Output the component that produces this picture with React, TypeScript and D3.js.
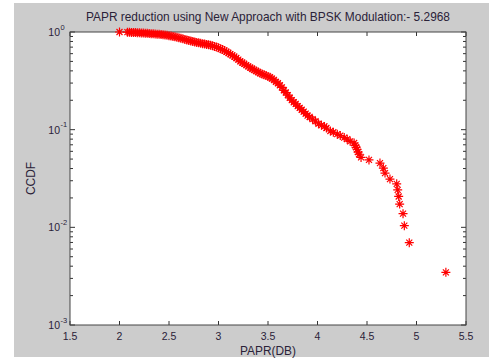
import React from "react";
import * as d3 from "d3";

const titleText = "PAPR reduction using New Approach with BPSK Modulation:- 5.2968";
const xLabelText = "PAPR(DB)";
const yLabelText = "CCDF";
const xTicks = [1.5, 2, 2.5, 3, 3.5, 4, 4.5, 5, 5.5];
const yDecades = [-3, -2, -1, 0];

const paprValues = [
  2.0, 2.08, 2.1, 2.12, 2.14, 2.16, 2.18, 2.2, 2.22, 2.24, 2.26, 2.28, 2.3, 2.32, 2.34, 2.36, 2.38, 2.4,
  2.42, 2.44, 2.46, 2.48, 2.5, 2.52, 2.54, 2.56, 2.58, 2.6, 2.62, 2.64, 2.66, 2.68, 2.7, 2.72, 2.74,
  2.76, 2.78, 2.8, 2.82, 2.84, 2.86, 2.88, 2.9, 2.92, 2.94, 2.96, 2.98, 3.0, 3.02, 3.04, 3.06, 3.08,
  3.1, 3.12, 3.14, 3.16, 3.18, 3.2, 3.22, 3.24, 3.26, 3.28, 3.3, 3.32, 3.34, 3.36, 3.38, 3.4, 3.42,
  3.44, 3.46, 3.48, 3.5, 3.52, 3.54, 3.56, 3.58, 3.6, 3.62, 3.64, 3.66, 3.68, 3.7, 3.72, 3.74, 3.76,
  3.78, 3.8, 3.82, 3.84, 3.86, 3.88, 3.9, 3.92, 3.95, 3.98, 4.01, 4.04, 4.07, 4.09, 4.13, 4.16, 4.2,
  4.23, 4.27, 4.3, 4.33, 4.37, 4.38, 4.39, 4.4, 4.41, 4.42, 4.44, 4.52, 4.631, 4.665, 4.682, 4.732,
  4.8, 4.81, 4.82, 4.83, 4.864, 4.877, 4.927, 5.2968,
];
const ccdfValues = [
  1.0, 0.997, 0.993, 0.99, 0.99, 0.986, 0.983, 0.983, 0.979, 0.976, 0.972, 0.969, 0.965, 0.962, 0.958,
  0.955, 0.951, 0.948, 0.944, 0.938, 0.931, 0.924, 0.917, 0.91, 0.9, 0.893, 0.882, 0.872, 0.861, 0.851,
  0.84, 0.83, 0.819, 0.809, 0.799, 0.788, 0.781, 0.774, 0.767, 0.76, 0.753, 0.746, 0.74, 0.733, 0.722,
  0.712, 0.701, 0.688, 0.674, 0.66, 0.646, 0.628, 0.611, 0.594, 0.576, 0.559, 0.542, 0.521, 0.5, 0.486,
  0.472, 0.458, 0.444, 0.431, 0.42, 0.41, 0.399, 0.389, 0.378, 0.372, 0.365, 0.358, 0.351, 0.344, 0.333,
  0.323, 0.309, 0.299, 0.285, 0.271, 0.253, 0.24, 0.226, 0.212, 0.201, 0.191, 0.184, 0.174, 0.167, 0.16,
  0.153, 0.146, 0.139, 0.135, 0.128, 0.122, 0.115, 0.111, 0.108, 0.104, 0.097, 0.094, 0.09, 0.087,
  0.083, 0.08, 0.076, 0.073, 0.069, 0.066, 0.063, 0.059, 0.056, 0.052, 0.049, 0.0455, 0.0404, 0.0359,
  0.0312, 0.0279, 0.0242, 0.0207, 0.0173, 0.0138, 0.0104, 0.00697, 0.00346,
];

const W = 489;
const H = 358;
const L = 70, R = 466, T = 32, B = 325;
const FONT = "'Liberation Sans', Arial, sans-serif";

export default function App() {
  const x = d3.scaleLinear().domain([1.5, 5.5]).range([L, R]);
  const y = d3.scaleLog().domain([1e-3, 1]).range([B, T]);
  const minorTicks: number[] = [];
  for (let d = -3; d < 0; d++) {
    for (let m = 2; m <= 9; m++) minorTicks.push(m * Math.pow(10, d));
  }
  const pts = paprValues.map((v, i) => [x(v), y(ccdfValues[i])]);
  const star = "M-4.5,0H4.5M0,-4.5V4.5M-3,-3L3,3M-3,3L3,-3";
  const textColor = "#2a2238";
  return (
    <svg width={W} height={H} style={{ position: "fixed", left: 0, top: 0, background: "#fff" }}>
      <rect x={14} y={3} width={W - 14} height={354} fill="#cccccc" />
      <rect x={L} y={T} width={R - L} height={B - T} fill="#ffffff" />
      {xTicks.map((t) => (
        <g key={"xt" + t}>
          <line x1={x(t)} x2={x(t)} y1={B} y2={B - 4} stroke="#333" />
          <line x1={x(t)} x2={x(t)} y1={T} y2={T + 4} stroke="#333" />
          <text x={x(t)} y={340} textAnchor="middle" fontSize={10.5} fontFamily={FONT} fill={textColor}>
            {String(t)}
          </text>
        </g>
      ))}
      {yDecades.map((d) => (
        <g key={"yd" + d}>
          <line x1={L} x2={L + 5} y1={y(Math.pow(10, d))} y2={y(Math.pow(10, d))} stroke="#333" />
          <line x1={R} x2={R - 5} y1={y(Math.pow(10, d))} y2={y(Math.pow(10, d))} stroke="#333" />
          <text x={60} y={y(Math.pow(10, d)) + 4} textAnchor="end" fontSize={10.5} fontFamily={FONT} fill={textColor}>
            10
          </text>
          <text x={60.5} y={y(Math.pow(10, d)) - 2.5} textAnchor="start" fontSize={7.5} fontFamily={FONT} fill={textColor}>
            {String(d)}
          </text>
        </g>
      ))}
      {minorTicks.map((t, i) => (
        <g key={"ym" + i}>
          <line x1={L} x2={L + 3} y1={y(t)} y2={y(t)} stroke="#333" />
          <line x1={R} x2={R - 3} y1={y(t)} y2={y(t)} stroke="#333" />
        </g>
      ))}
      <rect x={L} y={T} width={R - L} height={B - T} fill="none" stroke="#444" strokeWidth={1} />
      <g>
        {pts.map((p, i) => (
          <path key={i} d={star} transform={`translate(${p[0]},${p[1]})`} stroke="#ff0000" strokeWidth={1.2} fill="none" />
        ))}
      </g>
      <text x={(L + R) / 2} y={21} textAnchor="middle" fontSize={11.9} fontFamily={FONT} fill={textColor}>
        {titleText}
      </text>
      <text x={(L + R) / 2} y={355} textAnchor="middle" fontSize={11.9} fontFamily={FONT} fill={textColor}>
        {xLabelText}
      </text>
      <text
        transform={`translate(35,${(T + B) / 2}) rotate(-90)`}
        textAnchor="middle"
        fontSize={11.9}
        fontFamily={FONT}
        fill={textColor}
      >
        {yLabelText}
      </text>
    </svg>
  );
}
